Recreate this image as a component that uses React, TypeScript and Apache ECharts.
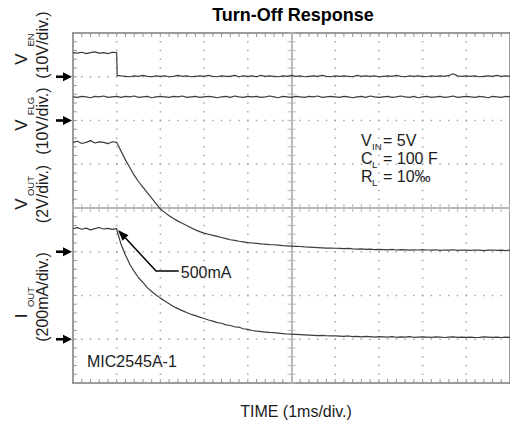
import React, { useEffect, useRef } from "react";
import * as echarts from "echarts";

// ---------- data ----------
// time base in ms (1 ms / div); 1.01 marks the enable edge
const timeMs = [
  0, 0.1, 0.2, 0.3, 0.4, 0.5, 0.6, 0.7, 0.8, 0.9, 1.0, 1.01,
  1.1, 1.2, 1.3, 1.4, 1.5, 1.6, 1.7, 1.8, 1.9, 2.0,
  2.1, 2.2, 2.3, 2.4, 2.5, 2.6, 2.7, 2.8, 2.9, 3.0,
  3.1, 3.2, 3.3, 3.4, 3.5, 3.6, 3.7, 3.8, 3.9, 4.0,
  4.1, 4.2, 4.3, 4.4, 4.5, 4.6, 4.7, 4.8, 4.9, 5.0,
  5.1, 5.2, 5.3, 5.4, 5.5, 5.6, 5.7, 5.8, 5.9, 6.0,
  6.1, 6.2, 6.3, 6.4, 6.5, 6.6, 6.7, 6.8, 6.9, 7.0,
  7.1, 7.2, 7.3, 7.4, 7.5, 7.6, 7.7, 7.8, 7.9, 8.0,
  8.1, 8.2, 8.3, 8.4, 8.5, 8.6, 8.7, 8.8, 8.9, 9.0,
  9.1, 9.2, 9.3, 9.4, 9.5, 9.6, 9.7, 9.8, 9.9, 10.0,
];

// V_EN (V)
const vEn = [
  5.5, 5.4, 5.6, 5.3, 5.5, 5.7, 5.4, 5.5, 5.3, 5.6, 5.5, 0.3,
  0.2, 0.1, 0.0, 0.2, 0.1, 0.3, 0.1, 0.0, 0.2, 0.1,
  0.2, 0.0, 0.1, 0.3, 0.1, 0.2, 0.0, 0.1, 0.2, 0.1,
  0.3, 0.1, 0.0, 0.2, 0.1, 0.1, 0.3, 0.0, 0.2, 0.1,
  0.2, 0.0, 0.3, 0.1, 0.2, 0.1, 0.0, 0.2, 0.1, 0.3,
  0.1, 0.2, 0.0, 0.1, 0.2, 0.1, 0.3, 0.1, 0.0, 0.2,
  0.1, 0.2, 0.1, 0.0, 0.3, 0.1, 0.2, 0.1, 0.2, 0.0,
  0.1, 0.2, 0.1, 0.3, 0.1, 0.0, 0.2, 0.1, 0.2, 0.1,
  0.0, 0.2, 0.1, 0.2, 0.1, 0.3, 0.7, 0.2, 0.1, 0.2,
  0.1, 0.2, 0.0, 0.1, 0.2, 0.1, 0.3, 0.1, 0.2, 0.1,
];

// V_FLG (V)
const vFlg = [
  5.4, 5.3, 5.5, 5.4, 5.2, 5.5, 5.4, 5.6, 5.3, 5.4, 5.5, 5.4,
  5.3, 5.5, 5.4, 5.6, 5.3, 5.4, 5.5, 5.2, 5.4, 5.5,
  5.4, 5.3, 5.5, 5.4, 5.6, 5.3, 5.4, 5.5, 5.3, 5.4,
  5.5, 5.4, 5.2, 5.4, 5.5, 5.3, 5.6, 5.4, 5.3, 5.5,
  5.4, 5.5, 5.3, 5.4, 5.6, 5.4, 5.2, 5.5, 5.4, 5.3,
  5.5, 5.4, 5.3, 5.5, 5.4, 5.6, 5.3, 5.4, 5.5, 5.4,
  5.3, 5.5, 5.4, 5.2, 5.4, 5.5, 5.3, 5.6, 5.4, 5.3,
  5.4, 5.5, 5.3, 5.4, 5.6, 5.4, 5.3, 5.5, 5.2, 5.4,
  5.5, 5.3, 5.4, 5.5, 5.3, 5.4, 5.6, 5.3, 5.4, 5.5,
  5.4, 5.3, 5.5, 5.4, 5.2, 5.5, 5.4, 5.3, 5.5, 5.4,
];

// V_OUT (V)
const vOut = [
  5.0, 5.05, 4.95, 5.0, 5.08, 4.97, 5.02, 5.0, 4.94, 5.03, 5.0, 4.96,
  4.6, 4.2, 3.85, 3.5, 3.2, 2.95, 2.7, 2.45, 2.2, 1.95,
  1.8, 1.65, 1.52, 1.4, 1.3, 1.2, 1.1, 1.0, 0.92, 0.85,
  0.8, 0.75, 0.7, 0.65, 0.6, 0.55, 0.52, 0.48, 0.45, 0.42,
  0.4, 0.38, 0.36, 0.35, 0.33, 0.32, 0.3, 0.28, 0.27, 0.26,
  0.25, 0.24, 0.22, 0.21, 0.2, 0.19, 0.18, 0.17, 0.17, 0.16,
  0.15, 0.14, 0.15, 0.13, 0.12, 0.13, 0.11, 0.12, 0.1, 0.11,
  0.1, 0.09, 0.11, 0.08, 0.1, 0.09, 0.07, 0.09, 0.08, 0.1,
  0.08, 0.07, 0.09, 0.06, 0.08, 0.07, 0.09, 0.06, 0.08, 0.07,
  0.06, 0.08, 0.07, 0.05, 0.07, 0.08, 0.06, 0.07, 0.05, 0.07,
];

// I_OUT (mA)
const iOut = [
  505, 510, 503, 508, 500, 506, 511, 504, 507, 502, 506, 495,
  434, 385, 343, 310, 281, 260, 236, 218, 202, 188,
  175, 162, 150, 140, 131, 122, 114, 108, 101, 95,
  88, 83, 76, 73, 66, 63, 57, 55, 48, 45,
  40, 37, 35, 33, 31, 30, 28, 26, 24, 23,
  22, 21, 20, 19, 18, 17, 18, 16, 15, 15,
  14, 13, 15, 12, 13, 11, 13, 12, 10, 12,
  11, 10, 12, 9, 11, 10, 12, 9, 10, 11,
  10, 9, 11, 10, 8, 10, 11, 9, 10, 9,
  10, 8, 9, 11, 10, 9, 10, 8, 10, 9,
];

// channel ground (in divisions from bottom) and units per division
const channelGroundDiv = [7, 6, 3, 1];
const channelPerDiv = [10, 10, 2, 200];
const channelMain = ["V", "V", "V", "I"];
const channelSub = ["EN", "FLG", "OUT", "OUT"];
const channelScale = ["(10V/div.)", "(10V/div.)", "(2V/div.)", "(200mA/div.)"];

// axes: 10 time divisions, 8 vertical divisions, 5 minor steps each
const timeDivs = 10;
const vertDivs = 8;
const minorSteps = 5;

const titleText = "Turn-Off Response";
const xTitleText = "TIME (1ms/div.)";
const partText = "MIC2545A-1";
const noteText = "500mA";
const condMain = ["V", "C", "R"];
const condSub = ["IN", "L", "L"];
const condRest = ["= 5V", "= 100 F", "= 10‰"];

// annotation anchor points (ms, div)
const noteTip = [1.03, 3.5];
const noteElbow = [1.9, 2.56];
const noteEnd = [2.42, 2.56];

const FONT = "'Liberation Sans', Arial, Helvetica, sans-serif";
const INK = "#1c1c1c";
const TRACE = "#3c3c3c";
const FRAME = "#7c7c7c";
const DOT = "#9a9a9a";
const CROSS = "#b8b8b8";

function toDiv(values: number[], ch: number) {
  return values.map((v, i) => [timeMs[i], channelGroundDiv[ch] + v / channelPerDiv[ch]]);
}

function frameAxis(extra: any) {
  return {
    type: "value",
    min: 0,
    interval: 1,
    axisLine: { show: true, onZero: false, lineStyle: { color: FRAME, width: 1.5 } },
    axisLabel: { show: false },
    axisTick: { show: false },
    splitLine: { show: false },
    ...extra,
  };
}

function decor(data: number[][], size: number[], color: string, offset: number[] = [0, 0]) {
  return {
    type: "scatter",
    data,
    xAxisIndex: 0,
    yAxisIndex: 0,
    symbol: "rect",
    symbolSize: size,
    symbolOffset: offset,
    itemStyle: { color },
    clip: false,
    z: 2,
    silent: true,
  };
}

export default function App() {
  const ref = useRef<HTMLDivElement>(null);
  useEffect(() => {
    if (!ref.current) return;
    const chart = echarts.init(ref.current, undefined, { renderer: "svg" });

    const cx = timeDivs / 2;
    const cy = vertDivs / 2;

    // graticule decoration, laid on the axes' own divisions
    const dots: number[][] = [];
    for (let i = 1; i < timeDivs; i++) {
      if (i === cx) continue;
      for (let k = 1; k < vertDivs * minorSteps; k++) dots.push([i, k / minorSteps]);
    }
    for (let j = 1; j < vertDivs; j++) {
      if (j === cy) continue;
      for (let k = 1; k < timeDivs * minorSteps; k++) dots.push([k / minorSteps, j]);
    }
    const hTicks: number[][] = [];
    for (let k = 0; k <= timeDivs * minorSteps; k++) hTicks.push([k / minorSteps, cy]);
    const vTicks: number[][] = [];
    for (let k = 0; k <= vertDivs * minorSteps; k++) vTicks.push([cx, k / minorSteps]);
    const bottomTicks: number[][] = [];
    const topTicks: number[][] = [];
    for (let k = 1; k < timeDivs * minorSteps; k++) {
      bottomTicks.push([k / minorSteps, 0]);
      topTicks.push([k / minorSteps, vertDivs]);
    }
    const leftTicks: number[][] = [];
    for (let k = 1; k < vertDivs * minorSteps; k++) leftTicks.push([0, k / minorSteps]);

    const trace = (name: string, data: number[][]) => ({
      name,
      type: "line",
      data,
      xAxisIndex: 0,
      yAxisIndex: 0,
      showSymbol: false,
      symbol: "none",
      lineStyle: { color: TRACE, width: 1.2 },
      z: 5,
      silent: true,
    });

    chart.setOption({
      animation: false,
      grid: { left: 73, top: 33, width: 442, height: 350, show: false },
      xAxis: [
        frameAxis({ max: timeDivs, position: "bottom" }),
        frameAxis({ max: timeDivs, position: "top" }),
      ],
      yAxis: [
        frameAxis({ max: vertDivs, position: "left" }),
        frameAxis({ max: vertDivs, position: "right" }),
      ],
      series: [
        decor(dots, [1.6, 1.6], DOT),
        {
          ...decor(hTicks, [1.3, 8], CROSS),
          markLine: {
            silent: true,
            symbol: "none",
            label: { show: false },
            lineStyle: { color: CROSS, width: 2, type: "solid" },
            data: [{ xAxis: cx }, { yAxis: cy }],
          },
        },
        decor(vTicks, [8, 1.3], CROSS),
        decor(bottomTicks, [1.1, 4], "#8a8a8a", [0, -2]),
        decor(topTicks, [1.1, 4], "#8a8a8a", [0, 2]),
        decor(leftTicks, [4, 1.1], "#8a8a8a", [2, 0]),
        trace("VEN", toDiv(vEn, 0)),
        trace("VFLG", toDiv(vFlg, 1)),
        trace("VOUT", toDiv(vOut, 2)),
        trace("IOUT", toDiv(iOut, 3)),
      ],
    });

    const px = (p: number[]) => chart.convertToPixel({ seriesIndex: 6 }, p) as number[];
    const graphics: any[] = [];

    // ground arrows
    channelGroundDiv.forEach((g) => {
      const p = px([0, g]);
      const x = p[0] - 1;
      const y = p[1];
      graphics.push({
        type: "polygon",
        shape: { points: [[x - 9, y - 4.5], [x, y], [x - 9, y + 4.5]] },
        style: { fill: "#000" },
      });
      graphics.push({
        type: "rect",
        shape: { x: x - 16, y: y - 1.3, width: 8, height: 2.6 },
        style: { fill: "#000" },
      });
    });

    // 500mA leader with arrow
    const tip = px(noteTip);
    const elbow = px(noteElbow);
    const end = px(noteEnd);
    const dx = tip[0] - elbow[0];
    const dy = tip[1] - elbow[1];
    const len = Math.hypot(dx, dy);
    const ux = dx / len;
    const uy = dy / len;
    const bx = tip[0] - ux * 11;
    const by = tip[1] - uy * 11;
    graphics.push({
      type: "polyline",
      shape: { points: [end, elbow, [bx, by]] },
      style: { stroke: "#000", lineWidth: 1.5, fill: null },
    });
    graphics.push({
      type: "polygon",
      shape: {
        points: [tip, [bx - uy * 4, by + ux * 4], [bx + uy * 4, by - ux * 4]],
      },
      style: { fill: "#000" },
    });
    graphics.push({
      type: "text",
      x: end[0] + 2,
      y: end[1] + 1,
      style: { text: noteText, font: `16px ${FONT}`, fill: INK, align: "left", verticalAlign: "middle" },
    });

    // title and captions
    graphics.push({
      type: "text",
      x: 293,
      y: 15,
      style: { text: titleText, font: `bold 18px ${FONT}`, fill: "#000", align: "center", verticalAlign: "middle" },
    });
    graphics.push({
      type: "text",
      x: 296,
      y: 411,
      style: { text: xTitleText, font: `16px ${FONT}`, fill: INK, align: "center", verticalAlign: "middle" },
    });
    graphics.push({
      type: "text",
      x: 87,
      y: 361,
      style: { text: partText, font: `16px ${FONT}`, fill: INK, align: "left", verticalAlign: "middle" },
    });

    // conditions block
    const condY = [140, 158, 176];
    condMain.forEach((m, i) => {
      graphics.push({
        type: "text",
        x: 361,
        y: condY[i],
        style: { text: m, font: `16px ${FONT}`, fill: INK, align: "left", verticalAlign: "middle" },
      });
      graphics.push({
        type: "text",
        x: 372,
        y: condY[i] + 6,
        style: { text: condSub[i], font: `9.5px ${FONT}`, fill: INK, align: "left", verticalAlign: "middle" },
      });
      graphics.push({
        type: "text",
        x: 383,
        y: condY[i],
        style: { text: condRest[i], font: `16px ${FONT}`, fill: INK, align: "left", verticalAlign: "middle" },
      });
    });

    // rotated channel labels
    const mainY = [59, 125, 204, 316];
    const subY = [40, 106, 186, 297];
    const scaleY = [45, 121, 194, 297];
    channelMain.forEach((m, i) => {
      graphics.push({
        type: "text",
        x: 21,
        y: mainY[i],
        rotation: Math.PI / 2,
        style: { text: m, font: `17px ${FONT}`, fill: INK, align: "center", verticalAlign: "middle" },
      });
      graphics.push({
        type: "text",
        x: 30,
        y: subY[i],
        rotation: Math.PI / 2,
        style: { text: channelSub[i], font: `9.5px ${FONT}`, fill: INK, align: "center", verticalAlign: "middle" },
      });
      graphics.push({
        type: "text",
        x: 42,
        y: scaleY[i],
        rotation: Math.PI / 2,
        style: { text: channelScale[i], font: `16px ${FONT}`, fill: INK, align: "center", verticalAlign: "middle" },
      });
    });

    chart.setOption({ graphic: graphics });

    return () => chart.dispose();
  }, []);

  return (
    <div style={{ position: "fixed", left: 0, top: 0, width: 510, height: 423, overflow: "hidden", background: "#fff" }}>
      <div ref={ref} style={{ width: 510, height: 423 }} />
    </div>
  );
}
